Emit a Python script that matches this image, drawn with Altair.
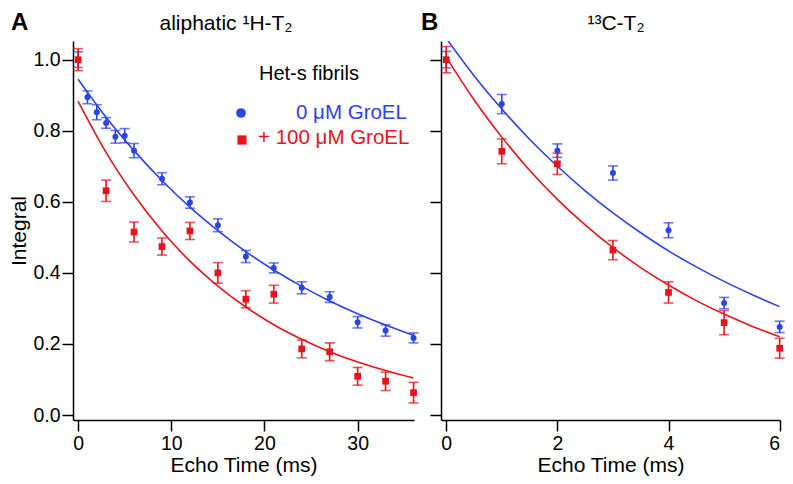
import altair as alt
import pandas as pd

BLUE = "#2b44e6"
RED = "#e8141c"
FONT = "Liberation Sans"

# ---- Panel A: aliphatic 1H-T2 ----
a_blue_t = [0, 1, 2, 3, 4, 5, 6, 9, 12, 15, 18, 21, 24, 27, 30, 33, 36]
a_blue_y = [1.0, 0.894, 0.852, 0.822, 0.783, 0.786, 0.744, 0.665, 0.598, 0.534, 0.446, 0.414, 0.358, 0.332, 0.261, 0.238, 0.217]
a_blue_e = [0.022, 0.018, 0.021, 0.015, 0.018, 0.020, 0.020, 0.017, 0.016, 0.018, 0.017, 0.014, 0.017, 0.015, 0.016, 0.016, 0.014]
a_red_t = [0, 3, 6, 9, 12, 15, 18, 21, 24, 27, 30, 33, 36]
a_red_y = [1.0, 0.631, 0.515, 0.474, 0.518, 0.400, 0.326, 0.340, 0.186, 0.178, 0.109, 0.095, 0.063]
a_red_e = [0.031, 0.030, 0.028, 0.024, 0.024, 0.029, 0.024, 0.025, 0.025, 0.025, 0.025, 0.026, 0.029]
a_fit_t = [0, 3, 6, 9, 12, 15, 18, 21, 24, 27, 30, 33, 36]
a_blue_fit = [0.945, 0.838, 0.744, 0.660, 0.585, 0.519, 0.460, 0.408, 0.362, 0.321, 0.285, 0.253, 0.224]
a_red_fit = [0.883, 0.739, 0.619, 0.518, 0.433, 0.363, 0.304, 0.254, 0.213, 0.178, 0.149, 0.125, 0.104]

# ---- Panel B: 13C-T2 ----
b_t = [0, 1, 2, 3, 4, 5, 6]
b_blue_y = [1.0, 0.875, 0.744, 0.681, 0.520, 0.315, 0.248]
b_blue_e = [0.023, 0.027, 0.019, 0.020, 0.021, 0.016, 0.016]
b_red_y = [1.0, 0.742, 0.707, 0.464, 0.345, 0.260, 0.188]
b_red_e = [0.037, 0.035, 0.030, 0.027, 0.030, 0.034, 0.028]
b_fit_t = [0, 0.5, 1, 1.5, 2, 2.5, 3, 3.5, 4, 4.5, 5, 5.5, 6]
b_blue_fit = [1.060, 0.955, 0.861, 0.776, 0.700, 0.631, 0.569, 0.513, 0.462, 0.417, 0.376, 0.339, 0.305]
b_red_fit = [1.007, 0.887, 0.782, 0.689, 0.607, 0.535, 0.471, 0.415, 0.366, 0.322, 0.284, 0.250, 0.220]

y_ticks = [0.0, 0.2, 0.4, 0.6, 0.8, 1.0]
Y_DOMAIN = [-0.014, 1.0525]
WA, WB, H = 341, 339, 379


def pts_df(t, y, e):
    return pd.DataFrame({"t": t, "y": y,
                         "lo": [a - b for a, b in zip(y, e)],
                         "hi": [a + b for a, b in zip(y, e)]})


def one():
    return pd.DataFrame({"k": [0]})


def txt(s, x, y, size=20, color="black", align="left", weight="normal", angle=0):
    return alt.Chart(pd.DataFrame({"s": [s]})).mark_text(
        font=FONT, fontSize=size, color=color, align=align,
        baseline="alphabetic", fontWeight=weight, angle=angle
    ).encode(text="s:N", x=alt.value(x), y=alt.value(y))


def panel(series, fits, xdomain, xticks, ylabels, extras, width):
    xs = alt.Scale(domain=xdomain, nice=False, zero=False)
    ys = alt.Scale(domain=Y_DOMAIN, nice=False, zero=False)
    xax = alt.Axis(values=xticks, format="d", title="Echo Time (ms)", labelPadding=3)
    if ylabels:
        yax = alt.Axis(values=y_ticks, format=".1f", title="Integral", titlePadding=3, labelPadding=2)
    else:
        yax = alt.Axis(values=y_ticks, labels=False, title=None)
    layers = []
    for (ft, fy, col) in fits:
        df = pd.DataFrame({"t": ft, "y": fy})
        layers.append(alt.Chart(df).mark_line(color=col, strokeWidth=1.6, interpolate="monotone", clip=True)
                      .encode(x=alt.X("t:Q", scale=xs, axis=xax),
                              y=alt.Y("y:Q", scale=ys, axis=yax)))
    for (df, col, shape, size) in series:
        layers.append(alt.Chart(df).mark_errorbar(
            color=col, thickness=1.6, ticks={"size": 10, "thickness": 1.6, "color": col})
            .encode(x=alt.X("t:Q", scale=xs, axis=xax),
                    y=alt.Y("lo:Q", scale=ys, axis=yax), y2="hi:Q"))
        layers.append(alt.Chart(df).mark_point(shape=shape, filled=True, size=size, color=col, opacity=1)
                      .encode(x=alt.X("t:Q", scale=xs, axis=xax),
                              y=alt.Y("y:Q", scale=ys, axis=yax)))
    layers += extras
    return alt.layer(*layers).properties(width=width, height=H)


a_blue = pts_df(a_blue_t, a_blue_y, a_blue_e)
a_red = pts_df(a_red_t, a_red_y, a_red_e)
b_blue = pts_df(b_t, b_blue_y, b_blue_e)
b_red = pts_df(b_t, b_red_y, b_red_e)

leg_circle = alt.Chart(one()).mark_point(
    shape="circle", filled=True, size=95, color=BLUE, opacity=1
).encode(x=alt.value(168), y=alt.value(72))
leg_square = alt.Chart(one()).mark_point(
    shape="square", filled=True, size=85, color=RED, opacity=1
).encode(x=alt.value(169), y=alt.value(99))

extras_a = [
    txt("A", -62, -11, size=24, weight="bold"),
    txt("aliphatic \u00b9H-T\u2082", 153, -11, size=21, align="center"),
    txt("Het-s fibrils", 236, 39, size=20, align="center"),
    leg_circle, leg_square,
    txt("0 \u03bcM GroEL", 223, 78, size=20.5, color=BLUE),
    txt("+ 100 \u03bcM GroEL", 185, 103, size=20.5, color=RED),
]
extras_b = [
    txt("B", -20, -11, size=24, weight="bold"),
    txt("\u00b9\u00b3C-T\u2082", 175, -11, size=21, align="center"),
]

pA = panel([(a_blue, BLUE, "circle", 36), (a_red, RED, "square", 45)],
           [(a_fit_t, a_blue_fit, BLUE), (a_fit_t, a_red_fit, RED)],
           [-0.55, 36.05], [0, 10, 20, 30], True, extras_a, WA)
pB = panel([(b_blue, BLUE, "circle", 36), (b_red, RED, "square", 45)],
           [(b_fit_t, b_blue_fit, BLUE), (b_fit_t, b_red_fit, RED)],
           [-0.094, 6.006], [0, 2, 4, 6], False, extras_b, WB)

chart = alt.hconcat(pA, pB, spacing=27, bounds="flush").properties(
    padding={"top": 3, "left": 0, "right": 0, "bottom": 0}
).configure_view(stroke=None).configure_axis(
    grid=False, domainColor="black", domainWidth=1.5,
    tickColor="black", tickWidth=1.5, tickSize=11,
    labelFont=FONT, labelFontSize=19.5, labelColor="black",
    titleFont=FONT, titleFontSize=21, titleFontWeight="normal", titleColor="black",
    titlePadding=2
)

chart.save("out.html", embed_options={"renderer": "svg", "actions": False})
